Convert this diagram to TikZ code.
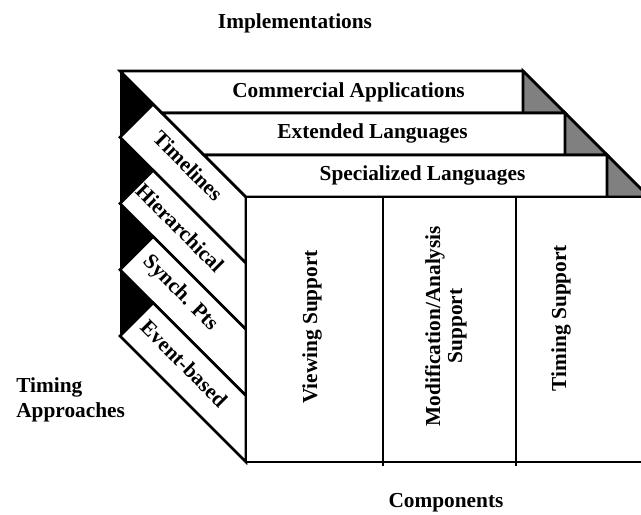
\documentclass[tikz,border=0pt]{standalone}
\usepackage{fontspec}
\setmainfont{Liberation Serif}
\begin{document}
\begin{tikzpicture}[x=0.75pt, y=-0.75pt, line width=2pt,
        lbl/.style={font=\fontsize{16}{18.75}\selectfont\bfseries, inner sep=0pt},
        slab/.style={draw=black, fill=white},
        corner/.style={draw=black, fill=gray}]
        \useasboundingbox (0,0) rectangle (641,514);
        \clip (0,0) rectangle (641,514);

        % Left face, black underneath the bands
        \fill[black] (120,71) -- (246,197) -- (246,462) -- (120,336) -- cycle;

        % Draw the timing approach bands
        \filldraw[slab] (120,137.25) -- (153.1,104.1) -- (246,197) -- (246,263.25) -- cycle;
        \filldraw[slab] (120,203.5) -- (153.1,170.4) -- (246,263.25) -- (246,329.5) -- cycle;
        \filldraw[slab] (120,269.75) -- (153.1,236.6) -- (246,329.5) -- (246,395.75) -- cycle;
        \filldraw[slab] (120,336) -- (153.1,302.9) -- (246,395.75) -- (246,462) -- cycle;

        % Draw the implementation slabs
        \filldraw[slab] (120,71) -- (523,71) -- (565,113) -- (162,113) -- cycle;
        \filldraw[corner] (523,71) -- (565,113) -- (523,113) -- cycle;
        \filldraw[slab] (162,113) -- (565,113) -- (607,155) -- (204,155) -- cycle;
        \filldraw[corner] (565,113) -- (607,155) -- (565,155) -- cycle;
        \filldraw[slab] (204,155) -- (607,155) -- (649,197) -- (246,197) -- cycle;
        \filldraw[corner] (607,155) -- (649,197) -- (607,197) -- cycle;

        % Front face with the component columns
        \filldraw[slab] (246,197) rectangle (649,462);
        \draw (383,197) -- (383,466);
        \draw (516,197) -- (516,466);

        % Labels
        \node[lbl, anchor=base] (impl) at (295,28) {Implementations};
        \node[lbl, anchor=base] (comm) at (348.5,97) {Commercial Applications};
        \node[lbl, anchor=base] (ext) at (372.5,138) {Extended Languages};
        \node[lbl, anchor=base] (spec) at (422.5,180) {Specialized Languages};

        \node[lbl, rotate=-45] (tline) at (188,166) {Timelines};
        \node[lbl, rotate=-45] (hier) at (180,228) {Hierarchical};
        \node[lbl, rotate=-45] (synch) at (180,293.5) {Synch. Pts};
        \node[lbl, rotate=-45] (event) at (184,363.5) {Event-based};

        \node[lbl, rotate=90] (view) at (312,327) {Viewing Support};
        \node[lbl, rotate=90, align=center,
            font=\fontsize{16}{16.5}\selectfont\bfseries] (modif) at (446,326) {Modification/Analysis\\Support};
        \node[lbl, rotate=90] (tsup) at (561,318) {Timing Support};

        \node[lbl, anchor=west, align=left] (appr) at (15,399.5) {Timing\\Approaches};
        \node[lbl, anchor=base] (comp) at (446,507) {Components};
    \end{tikzpicture}
\end{document}
